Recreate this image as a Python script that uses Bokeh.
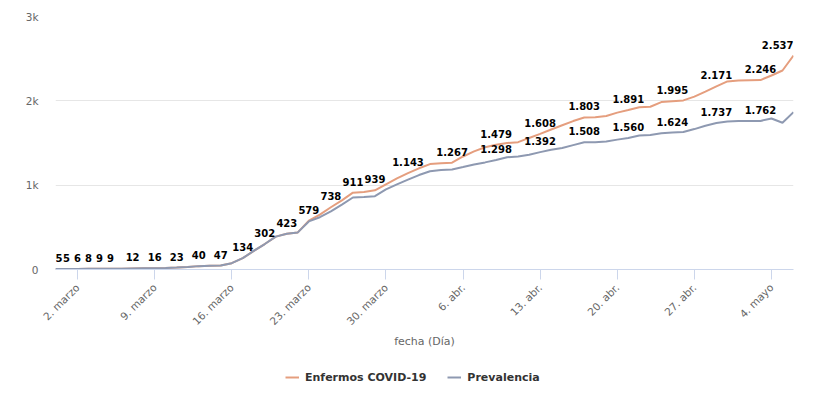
import math
from bokeh.plotting import figure
from bokeh.layouts import column
from bokeh.models import ColumnDataSource, Range1d, FixedTicker, Legend, LegendItem
from bokeh.embed import file_html
from bokeh.resources import INLINE
from bokeh.core.properties import value

# Day index 0 = 29 Feb 2020 ... 67 = 6 May 2020
days = list(range(68))

enfermos = [5, 5, 6, 8, 9, 9, 10, 12, 14, 16,
            19, 23, 31, 40, 44, 47, 75, 134, 220, 302,
            390, 423, 440, 579, 650, 738, 820, 911, 920, 939,
            1010, 1080, 1143, 1200, 1250, 1260, 1267, 1340, 1400, 1450,
            1479, 1500, 1510, 1560, 1608, 1660, 1710, 1760, 1803, 1805,
            1820, 1860, 1891, 1925, 1930, 1985, 1995, 2005, 2050, 2110,
            2171, 2230, 2240, 2243, 2246, 2300, 2360, 2537]

prevalencia = [5, 5, 6, 8, 9, 9, 10, 12, 14, 16,
               19, 23, 31, 40, 44, 47, 75, 134, 220, 302,
               390, 423, 440, 570, 620, 690, 770, 854, 860, 870,
               950, 1010, 1065, 1120, 1165, 1180, 1186, 1215, 1245, 1270,
               1298, 1330, 1340, 1360, 1392, 1420, 1440, 1475, 1508, 1510,
               1518, 1540, 1560, 1589, 1595, 1615, 1624, 1630, 1665, 1705,
               1737, 1755, 1762, 1762, 1762, 1790, 1740, 1866]

# days whose data labels are visible
enf_label_days = [0, 1, 2, 3, 4, 5, 7, 9, 11, 13, 15, 17, 19, 21, 23, 25, 27, 29,
                  32, 36, 40, 44, 48, 52, 56, 60, 64, 67]
prev_label_days = [40, 44, 48, 52, 56, 60, 64]

tick_days = [2, 9, 16, 23, 30, 37, 44, 51, 58, 65]
tick_labels = ["2. marzo", "9. marzo", "16. marzo", "23. marzo", "30. marzo",
               "6. abr.", "13. abr.", "20. abr.", "27. abr.", "4. mayo"]

y_ticks = [0, 1000, 2000, 3000]
y_tick_labels = ["0", "1k", "2k", "3k"]

series_names = ["Enfermos COVID-19", "Prevalencia"]

ORANGE = "#e59e7e"
GREY = "#8e99b1"


def fmt(v):
    return f"{v:,}".replace(",", ".")


p = figure(frame_width=738, frame_height=253,
           min_border_left=55, min_border_top=16, min_border_right=22, min_border_bottom=0,
           x_range=Range1d(0, 67), y_range=Range1d(0, 3000),
           output_backend="svg", toolbar_location=None,
           background_fill_color="white", border_fill_color="white")
p.outline_line_color = None

src = ColumnDataSource(dict(x=days, e=enfermos, pv=prevalencia))
r1 = p.line("x", "e", source=src, line_color=ORANGE, line_width=2)
r2 = p.line("x", "pv", source=src, line_color=GREY, line_width=2)

# data labels
lx, ly, lt, la = [], [], [], []
for d in enf_label_days:
    lx.append(d); ly.append(enfermos[d]); lt.append(fmt(enfermos[d]))
    la.append("right" if d == days[-1] else ("left" if d == days[0] else "center"))
for d in prev_label_days:
    lx.append(d); ly.append(prevalencia[d]); lt.append(fmt(prevalencia[d]))
    la.append("center")
lsrc = ColumnDataSource(dict(x=lx, y=ly, t=lt, a=la))
p.text("x", "y", text="t", source=lsrc, text_align="a", text_baseline="middle",
       y_offset=-11, text_font=value("DejaVu Sans"), text_font_style="bold",
       text_font_size="10px", text_color="#000000")

# axes
p.xaxis.ticker = FixedTicker(ticks=tick_days)
p.xaxis.major_label_overrides = {d: l for d, l in zip(tick_days, tick_labels)}
p.xaxis.major_label_orientation = math.pi / 4
p.xaxis.axis_line_color = "#ccd6eb"
p.xaxis.major_tick_line_color = "#ccd6eb"
p.xaxis.major_tick_out = 10
p.xaxis.major_tick_in = 0
p.xaxis.minor_tick_line_color = None
p.xaxis.major_label_text_color = "#666666"
p.xaxis.major_label_text_font = "DejaVu Sans"
p.xaxis.major_label_text_font_size = "10.5px"
p.xaxis.major_label_standoff = 6
p.xaxis.axis_label = "fecha (Día)"
p.xaxis.axis_label_text_font = "DejaVu Sans"
p.xaxis.axis_label_text_font_style = "normal"
p.xaxis.axis_label_text_font_size = "11px"
p.xaxis.axis_label_text_color = "#666666"
p.xaxis.axis_label_standoff = 1

p.yaxis.ticker = FixedTicker(ticks=y_ticks)
p.yaxis.major_label_overrides = {v: l for v, l in zip(y_ticks, y_tick_labels)}
p.yaxis.axis_line_color = None
p.yaxis.major_tick_line_color = None
p.yaxis.major_tick_out = 0
p.yaxis.major_tick_in = 0
p.yaxis.minor_tick_line_color = None
p.yaxis.minor_tick_out = 0
p.yaxis.major_label_text_color = "#666666"
p.yaxis.major_label_text_font = "DejaVu Sans"
p.yaxis.major_label_text_font_size = "10.5px"
p.yaxis.major_label_standoff = 17

p.xgrid.grid_line_color = None
p.ygrid.grid_line_color = "#e6e6e6"

# legend strip below the chart (its lines sit outside the visible ranges)
p2 = figure(width=815, height=49, min_border=0,
            x_range=Range1d(-200, -199), y_range=Range1d(0, 1),
            x_axis_location=None, y_axis_location=None,
            output_backend="svg", toolbar_location=None,
            background_fill_color="white", border_fill_color="white")
p2.outline_line_color = None
p2.xgrid.grid_line_color = None
p2.ygrid.grid_line_color = None
l1 = p2.line("x", "e", source=src, line_color=ORANGE, line_width=2)
l2 = p2.line("x", "pv", source=src, line_color=GREY, line_width=2)

legend = Legend(items=[LegendItem(label=series_names[0], renderers=[l1]),
                       LegendItem(label=series_names[1], renderers=[l2])],
                orientation="horizontal", location=(230, 16),
                border_line_color=None, background_fill_alpha=0,
                label_text_font="DejaVu Sans", label_text_font_style="bold",
                label_text_font_size="11px", label_text_color="#333333",
                glyph_width=14, glyph_height=14, label_height=14,
                label_standoff=6, spacing=21, padding=0, margin=0)
p2.add_layout(legend, "center")

layout = column(p, p2, spacing=0)

open("out.html", "w").write(file_html(layout, INLINE))
